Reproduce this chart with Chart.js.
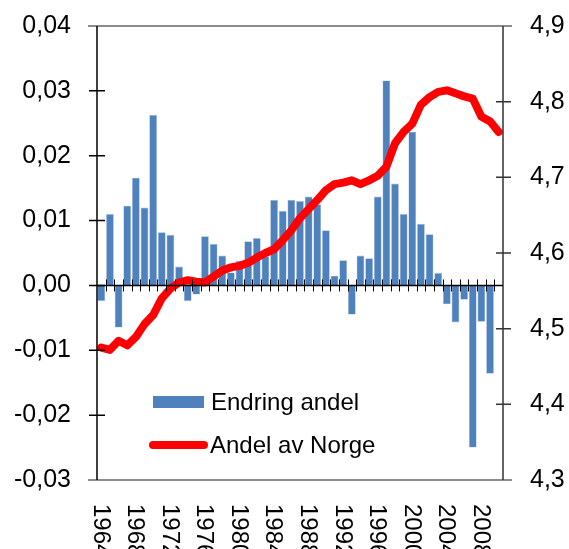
<!DOCTYPE html>
<html>
<head>
<meta charset="utf-8">
<script src="https://cdn.jsdelivr.net/npm/chart.js@4.4.1/dist/chart.umd.min.js"></script>
<style>
  html, body { margin: 0; padding: 0; background: #ffffff; }
  #wrap { width: 569px; height: 549px; }
</style>
</head>
<body>
<div id="wrap"><canvas id="c" width="569" height="549"></canvas></div>
<script>
// ---- Data ----
const years = [];
for (let y = 1964; y <= 2010; y++) years.push(String(y));

const endringAndel = [
  -0.0024, 0.0110, -0.0065, 0.0123, 0.0166, 0.0120, 0.0263, 0.0082, 0.0078, 0.0029,
  -0.0024, -0.0014, 0.0076, 0.0064, 0.0046, 0.0020, 0.0038, 0.0068, 0.0073, 0.0045,
  0.0132, 0.0115, 0.0132, 0.0130, 0.0137, 0.0125, 0.0085, 0.0015, 0.0039, -0.0045,
  0.0046, 0.0042, 0.0137, 0.0316, 0.0157, 0.0110, 0.0237, 0.0095, 0.0079, 0.0019,
  -0.0029, -0.0057, -0.0022, -0.0250, -0.0056, -0.0136, null
];

const andelAvNorge = [
  4.475, 4.472, 4.484, 4.478, 4.489, 4.506, 4.518, 4.540, 4.553, 4.561,
  4.564, 4.562, 4.561, 4.569, 4.577, 4.581, 4.583, 4.587, 4.594, 4.600,
  4.605, 4.617, 4.630, 4.646, 4.658, 4.670, 4.683, 4.691, 4.693, 4.696,
  4.691, 4.696, 4.702, 4.714, 4.745, 4.760, 4.771, 4.796, 4.806, 4.813,
  4.815, 4.811, 4.807, 4.804, 4.780, 4.774, 4.760
];

const xLabelEvery = 4;
const leftAxis = { min: -0.03, max: 0.04, step: 0.01 };
const rightAxis = { min: 4.3, max: 4.9, step: 0.1 };

const FONT = "'Liberation Sans', Arial, sans-serif";

function fmt(v, d) {
  if (Math.abs(v) < 1e-9) v = 0;
  return v.toFixed(d).replace('.', ',');
}

const axesPlugin = {
  id: 'axesPlugin',
  afterDatasetsDraw(chart) {
    const ctx = chart.ctx;
    const a = chart.chartArea;
    const ys = chart.scales.y, yr = chart.scales.y1, xs = chart.scales.x;
    ctx.save();
    // gray top / bottom borders
    ctx.strokeStyle = '#8c8c8c';
    ctx.lineWidth = 2;
    ctx.beginPath();
    ctx.moveTo(a.left - 9, a.top); ctx.lineTo(a.right + 9, a.top);
    ctx.moveTo(a.left - 9, a.bottom); ctx.lineTo(a.right + 9, a.bottom);
    ctx.stroke();
    // left axis
    ctx.strokeStyle = '#000';
    ctx.lineWidth = 1.5;
    ctx.beginPath();
    ctx.moveTo(a.left, a.top); ctx.lineTo(a.left, a.bottom);
    ys.ticks.forEach((t, i) => {
      if (i === 0 || i === ys.ticks.length - 1) return;
      const py = ys.getPixelForValue(t.value);
      ctx.moveTo(a.left - 8, py); ctx.lineTo(a.left + 8, py);
    });
    ctx.stroke();
    // right axis
    ctx.strokeStyle = '#333';
    ctx.beginPath();
    ctx.moveTo(a.right, a.top); ctx.lineTo(a.right, a.bottom);
    yr.ticks.forEach((t, i) => {
      if (i === 0 || i === yr.ticks.length - 1) return;
      const py = yr.getPixelForValue(t.value);
      ctx.moveTo(a.right - 7, py); ctx.lineTo(a.right + 8, py);
    });
    ctx.stroke();
    // zero line with category ticks
    const y0 = ys.getPixelForValue(0);
    ctx.strokeStyle = '#000';
    ctx.lineWidth = 1.5;
    ctx.beginPath();
    ctx.moveTo(a.left, y0); ctx.lineTo(a.right, y0);
    const n = years.length;
    ctx.stroke();
    ctx.lineWidth = 1;
    ctx.beginPath();
    for (let i = 1; i < n; i++) {
      const px = Math.round((xs.getPixelForValue(i - 1) + xs.getPixelForValue(i)) / 2) + 0.5;
      ctx.moveTo(px, y0 - 6); ctx.lineTo(px, y0 + 6);
    }
    ctx.stroke();
    ctx.restore();
  },
  afterDraw(chart) {
    const ctx = chart.ctx;
    const a = chart.chartArea;
    const xs = chart.scales.x;
    ctx.save();
    // rotated x labels (reading top to bottom)
    ctx.fillStyle = '#000';
    ctx.font = '24px ' + FONT;
    ctx.textAlign = 'left';
    ctx.textBaseline = 'middle';
    years.forEach((lab, i) => {
      if (i % xLabelEvery !== 0) return;
      const px = xs.getPixelForValue(i);
      ctx.save();
      ctx.translate(px - 1, a.bottom + 24);
      ctx.rotate(Math.PI / 2);
      ctx.fillText(lab, 0, 0);
      ctx.restore();
    });
    // legend inside plot
    const ds = chart.data.datasets;
    const lx = a.left + 56;
    const ly1 = a.top + 376;
    const ly2 = a.top + 419;
    ctx.fillStyle = ds[0].backgroundColor;
    ctx.fillRect(lx, ly1 - 6, 51, 12);
    ctx.strokeStyle = ds[1].borderColor;
    ctx.lineWidth = 8;
    ctx.lineCap = 'round';
    ctx.beginPath();
    ctx.moveTo(lx, ly2); ctx.lineTo(lx + 51, ly2);
    ctx.stroke();
    ctx.fillStyle = '#000';
    ctx.font = '24px ' + FONT;
    ctx.textBaseline = 'middle';
    ctx.fillText(ds[0].label, lx + 58, ly1 + 1);
    ctx.fillText(ds[1].label, lx + 57, ly2 + 1);
    ctx.restore();
  }
};

new Chart(document.getElementById('c'), {
  data: {
    labels: years,
    datasets: [
      {
        type: 'bar',
        label: 'Endring andel',
        data: endringAndel,
        yAxisID: 'y',
        backgroundColor: '#4f81bd',
        borderColor: '#a7bfe0',
        borderWidth: 0.6,
        barPercentage: 0.9,
        categoryPercentage: 1.0,
        order: 2
      },
      {
        type: 'line',
        label: 'Andel av Norge',
        data: andelAvNorge,
        yAxisID: 'y1',
        borderColor: '#ff0000',
        backgroundColor: '#ff0000',
        borderWidth: 8,
        borderJoinStyle: 'round',
        borderCapStyle: 'round',
        pointRadius: 0,
        tension: 0,
        fill: false,
        order: 1
      }
    ]
  },
  options: {
    responsive: false,
    animation: false,
    devicePixelRatio: 1,
    layout: { padding: { top: 26, left: 0, right: 0, bottom: 0 } },
    plugins: { legend: { display: false }, tooltip: { enabled: false } },
    scales: {
      x: {
        type: 'category',
        offset: true,
        grid: { display: false },
        border: { display: false },
        ticks: { display: false },
        afterFit(s) { s.height = 69; s.paddingLeft = 0; s.paddingRight = 0; }
      },
      y: {
        position: 'left',
        min: leftAxis.min, max: leftAxis.max,
        grid: { display: false, drawTicks: false },
        border: { display: false },
        ticks: {
          stepSize: leftAxis.step,
          padding: 26,
          color: '#000',
          font: { family: FONT, size: 25 },
          callback: (v) => fmt(v, 2)
        },
        afterFit(s) { s.width = 97; s.paddingTop = 0; s.paddingBottom = 0; }
      },
      y1: {
        position: 'right',
        min: rightAxis.min, max: rightAxis.max,
        grid: { display: false, drawTicks: false },
        border: { display: false },
        ticks: {
          stepSize: rightAxis.step,
          padding: 27,
          color: '#000',
          font: { family: FONT, size: 25 },
          callback: (v) => fmt(v, 1)
        },
        afterFit(s) { s.width = 66; s.paddingTop = 0; s.paddingBottom = 0; }
      }
    }
  },
  plugins: [axesPlugin]
});
</script>
</body>
</html>
